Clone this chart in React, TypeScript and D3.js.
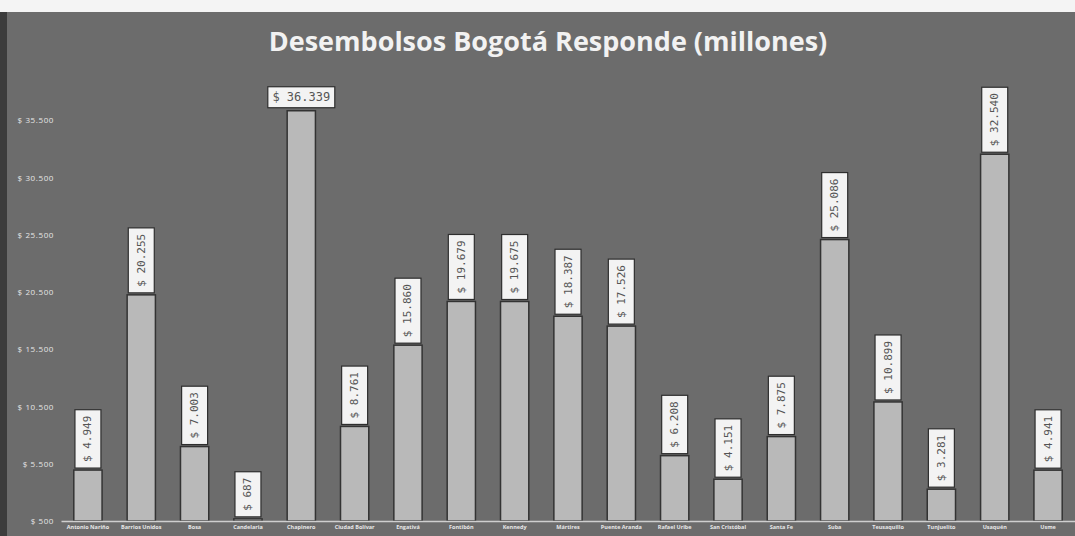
import React, { useEffect, useRef } from 'react';
import * as d3 from 'd3';

const localidades = [
  'Antonio Nariño', 'Barrios Unidos', 'Bosa', 'Candelaria', 'Chapinero',
  'Ciudad Bolívar', 'Engativá', 'Fontibón', 'Kennedy', 'Mártires',
  'Puente Aranda', 'Rafael Uribe', 'San Cristóbal', 'Santa Fe', 'Suba',
  'Teusaquillo', 'Tunjuelito', 'Usaquén', 'Usme',
];
const desembolsos = [
  4949, 20255, 7003, 687, 36339, 8761, 15860, 19679, 19675, 18387,
  17526, 6208, 4151, 7875, 25086, 10899, 3281, 32540, 4941,
];
const yTicks = [500, 5500, 10500, 15500, 20500, 25500, 30500, 35500];

const W = 1075;
const H = 536;
const margin = { top: 86, right: 0, bottom: 15, left: 61 };

const locale = d3.formatLocale({ decimal: ',', thousands: '.', grouping: [3], currency: ['$ ', ''] });
const money = (v: number) => '$ ' + locale.format(',')(v);

const draw = (el: SVGSVGElement) => {
  const svg = d3.select(el);
  svg.selectAll('*').remove();

  svg.append('rect').attr('width', W).attr('height', H).attr('fill', '#f4f4f4');
  svg.append('rect').attr('x', 0).attr('y', 12).attr('width', W).attr('height', H - 12).attr('fill', '#6c6c6c');
  svg.append('rect').attr('x', 0).attr('y', 12).attr('width', 7).attr('height', H - 12).attr('fill', '#3c3c3c');

  svg.append('text')
    .attr('x', 548).attr('y', 51)
    .attr('text-anchor', 'middle')
    .attr('font-family', '"Open Sans", sans-serif')
    .attr('font-weight', 'bold')
    .attr('font-size', 27)
    .attr('fill', '#f2f2f2')
    .text('Desembolsos Bogotá Responde (millones)');

  const x = d3.scaleBand<string>()
    .domain(localidades)
    .range([margin.left, W - margin.right])
    .paddingInner(0.47)
    .paddingOuter(0.24);
  const y = d3.scaleLinear()
    .domain([500, 38500])
    .range([H - margin.bottom, margin.top]);

  // y axis
  const yAxis = svg.append('g')
    .attr('transform', `translate(${margin.left - 4},0)`)
    .call(d3.axisLeft(y).tickValues(yTicks).tickSize(0).tickFormat((d) => money(+d)));
  yAxis.select('.domain').remove();
  yAxis.selectAll('text')
    .attr('font-family', '"Open Sans", sans-serif')
    .attr('font-size', 8)
    .attr('letter-spacing', 0.6)
    .attr('fill', '#e6e6e6');

  // bars
  const data = localidades.map((name, i) => ({ name, value: desembolsos[i] }));
  svg.append('g').selectAll('rect').data(data).join('rect')
    .attr('x', (d) => x(d.name)!)
    .attr('y', (d) => y(d.value))
    .attr('width', x.bandwidth())
    .attr('height', (d) => y(500) - y(d.value))
    .attr('fill', '#b9b9b9')
    .attr('stroke', '#333')
    .attr('stroke-width', 1.5);

  // x axis
  const xAxis = svg.append('g')
    .attr('transform', `translate(0,${y(500)})`)
    .call(d3.axisBottom(x).tickSize(0).tickPadding(4));
  xAxis.select('.domain').attr('stroke', '#cfcfcf').attr('stroke-width', 1.5);
  xAxis.selectAll('text')
    .attr('font-family', '"Open Sans", sans-serif')
    .attr('font-weight', 'bold')
    .attr('font-size', 5.5)
    .attr('fill', '#e8e8e8');

  // value labels
  const labels = svg.append('g');
  data.forEach((d) => {
    const cx = x(d.name)! + x.bandwidth() / 2;
    const top = y(d.value);
    const g = labels.append('g');
    const box = g.append('rect')
      .attr('fill', '#f3f3f3')
      .attr('stroke', '#2e2e2e')
      .attr('stroke-width', 1.2);
    const t = g.append('text')
      .attr('font-family', '"DejaVu Sans Mono", monospace')
      .attr('font-size', 11)
      .attr('fill', '#555')
      .attr('dominant-baseline', 'central')
      .attr('text-anchor', 'middle')
      .text(money(d.value));
    const len = (t.node() as SVGTextElement).getComputedTextLength();
    const bh = len + 12;
    if (top - bh - 2 < margin.top - 6) {
      // horizontal label
      box.attr('x', cx - (len + 14) / 2).attr('y', top - 24).attr('width', len + 14).attr('height', 21);
      t.attr('x', cx).attr('y', top - 13.5).attr('font-size', 12);
    } else {
      box.attr('x', cx - 13).attr('y', top - bh - 2).attr('width', 26).attr('height', bh);
      t.attr('transform', `translate(${cx},${top - 2 - bh / 2}) rotate(-90)`);
    }
  });
};

const Chart: React.FC = () => {
  const ref = useRef<SVGSVGElement>(null);
  useEffect(() => {
    if (ref.current) draw(ref.current);
  }, []);
  return <svg ref={ref} width={W} height={H} style={{ display: 'block' }} />;
};

export default function App() {
  return (
    <div style={{ position: 'fixed', left: 0, top: 0 }}>
      <Chart />
    </div>
  );
}
